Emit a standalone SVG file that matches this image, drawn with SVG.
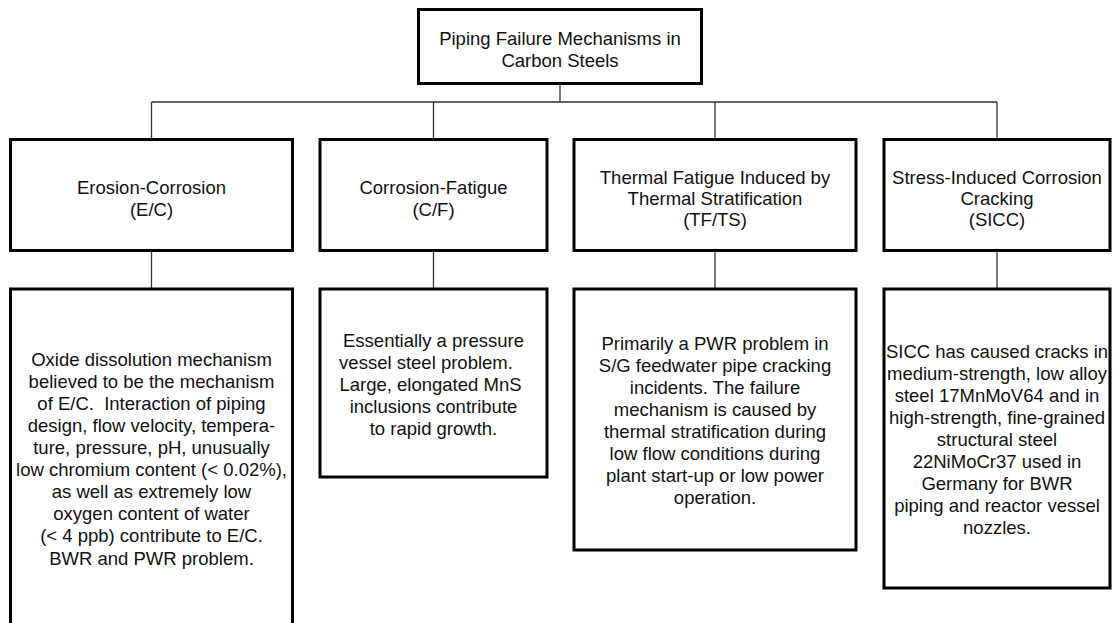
<svg xmlns="http://www.w3.org/2000/svg" width="1114" height="623" viewBox="0 0 1114 623">
<style>
.box{fill:#fff;stroke:#000;stroke-width:3}
.t{font-family:"Liberation Sans",Arial,sans-serif;font-size:18.5px;fill:#111;text-anchor:middle}
.c{stroke:#333;stroke-width:1.3;fill:none}
</style>
<rect width="1114" height="623" fill="#fff"/>
<g id="connectors">
<path class="c" d="M560 83V102M151.5 102H997M151.5 102V139M433.5 102V139M715 102V139M997 102V139"/>
<path class="c" d="M151.5 251V289M433.5 251V289M715 251V289M997 251V289"/>
</g>
<g id="root">
<rect class="box" x="418.5" y="9.5" width="283" height="74"/>
<text class="t" x="560" y="45">Piping Failure Mechanisms in</text>
<text class="t" x="560" y="67">Carbon Steels</text>
</g>
<g id="ec">
<rect class="box" x="10.5" y="139.5" width="282" height="111"/>
<text class="t" x="151.5" y="194">Erosion-Corrosion</text>
<text class="t" x="151.5" y="216">(E/C)</text>
</g>
<g id="cf">
<rect class="box" x="320" y="139.5" width="227" height="111"/>
<text class="t" x="433.5" y="194">Corrosion-Fatigue</text>
<text class="t" x="433.5" y="216">(C/F)</text>
</g>
<g id="tfts">
<rect class="box" x="574" y="139.5" width="282" height="111"/>
<text class="t" x="715" y="184">Thermal Fatigue Induced by</text>
<text class="t" x="715" y="205">Thermal Stratification</text>
<text class="t" x="715" y="226">(TF/TS)</text>
</g>
<g id="sicc">
<rect class="box" x="884" y="139.5" width="226" height="111"/>
<text class="t" x="997" y="184">Stress-Induced Corrosion</text>
<text class="t" x="997" y="205">Cracking</text>
<text class="t" x="997" y="226">(SICC)</text>
</g>
<g id="ec-desc">
<rect class="box" x="10.5" y="289" width="282" height="345"/>
<text class="t" x="151.5" y="366">Oxide dissolution mechanism</text>
<text class="t" x="151.5" y="388">believed to be the mechanism</text>
<text class="t" x="151.5" y="410">of E/C.&#160; Interaction of piping</text>
<text class="t" x="151.5" y="432">design, flow velocity, tempera-</text>
<text class="t" x="151.5" y="454">ture, pressure, pH, unusually</text>
<text class="t" x="151.5" y="476">low chromium content (&lt; 0.02%),</text>
<text class="t" x="151.5" y="498">as well as extremely low</text>
<text class="t" x="151.5" y="520">oxygen content of water</text>
<text class="t" x="151.5" y="542">(&lt; 4 ppb) contribute to E/C.</text>
<text class="t" x="151.5" y="565">BWR and PWR problem.</text>
</g>
<g id="cf-desc">
<rect class="box" x="320" y="289" width="227" height="188"/>
<text class="t" x="433.5" y="347">Essentially a pressure</text>
<text class="t" x="426" y="369">vessel steel problem.</text>
<text class="t" x="430.5" y="391">Large, elongated MnS</text>
<text class="t" x="433.5" y="413">inclusions contribute</text>
<text class="t" x="433.5" y="435">to rapid growth.</text>
</g>
<g id="tfts-desc">
<rect class="box" x="574" y="289" width="282" height="261"/>
<text class="t" x="715" y="350">Primarily a PWR problem in</text>
<text class="t" x="715" y="372">S/G feedwater pipe cracking</text>
<text class="t" x="715" y="394">incidents. The failure</text>
<text class="t" x="715" y="416">mechanism is caused by</text>
<text class="t" x="715" y="438">thermal stratification during</text>
<text class="t" x="715" y="460">low flow conditions during</text>
<text class="t" x="715" y="482">plant start-up or low power</text>
<text class="t" x="715" y="504">operation.</text>
</g>
<g id="sicc-desc">
<rect class="box" x="884" y="289" width="226" height="299"/>
<text class="t" x="997" y="358">SICC has caused cracks in</text>
<text class="t" x="997" y="380">medium-strength, low alloy</text>
<text class="t" x="997" y="402">steel 17MnMoV64 and in</text>
<text class="t" x="997" y="424">high-strength, fine-grained</text>
<text class="t" x="997" y="446">structural steel</text>
<text class="t" x="997" y="468">22NiMoCr37 used in</text>
<text class="t" x="997" y="490">Germany for BWR</text>
<text class="t" x="997" y="512">piping and reactor vessel</text>
<text class="t" x="997" y="534">nozzles.</text>
</g>
</svg>
